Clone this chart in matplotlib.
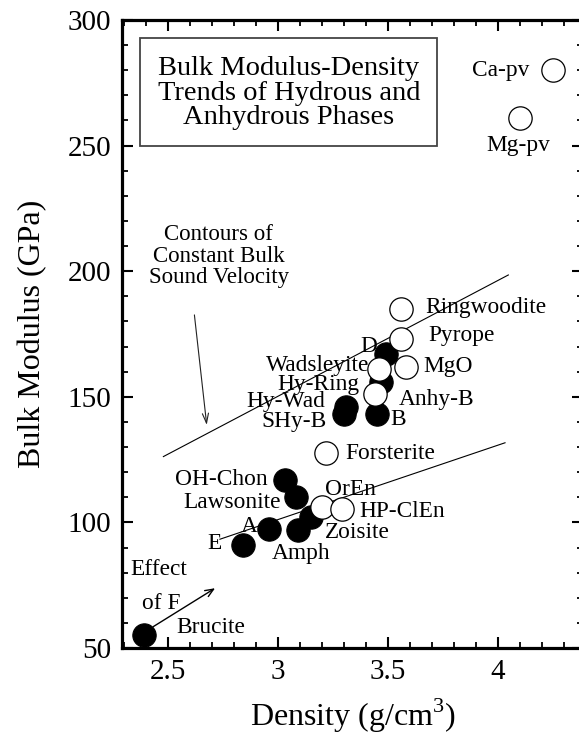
import numpy as np
import matplotlib
matplotlib.use('Agg')
import matplotlib.pyplot as plt
from matplotlib.ticker import MultipleLocator
from matplotlib.patches import Rectangle

plt.rcParams['font.family'] = 'Liberation Serif'
plt.rcParams['mathtext.fontset'] = 'custom'
plt.rcParams['mathtext.rm'] = 'Liberation Serif'

# hydrous phases (filled symbols)
hyd_names = ['Brucite', 'E', 'A', 'Amph', 'Zoisite', 'Lawsonite', 'OH-Chon',
             'B', 'SHy-B', 'Hy-Wad', 'Hy-Ring', 'D']
hyd_rho = [2.39, 2.84, 2.96, 3.09, 3.15, 3.08, 3.03, 3.45, 3.30, 3.31, 3.47, 3.49]
hyd_K = [55, 91, 97.5, 97, 102, 110, 117, 143, 143, 146, 156, 167]

# anhydrous phases (open symbols)
anh_names = ['Forsterite', 'OrEn', 'HP-ClEn', 'Anhy-B', 'Wadsleyite', 'MgO',
             'Pyrope', 'Ringwoodite', 'Mg-pv', 'Ca-pv']
anh_rho = [3.22, 3.20, 3.29, 3.44, 3.46, 3.58, 3.56, 3.56, 4.10, 4.25]
anh_K = [127.5, 106, 105.5, 151, 161, 162, 173, 185, 261, 280]

# contours of constant bulk sound velocity (end points)
upper_rho = [2.479, 4.047]
upper_K = [126.2, 198.5]
lower_rho = [2.736, 4.032]
lower_K = [93.3, 131.7]

# label offsets in pixels (dx, dy, ha)
lab_hyd = {'Brucite': (33, 8, 'left'), 'E': (-21, 2, 'right'), 'A': (-12, 2, 'right'),
           'Amph': (-26, -24, 'left'), 'Zoisite': (14, -15, 'left'),
           'Lawsonite': (-15, -5, 'right'), 'OH-Chon': (-17, 0, 'right'),
           'B': (13, -5, 'left'), 'SHy-B': (-17, -7, 'right'), 'Hy-Wad': (-21, 5, 'right'),
           'Hy-Ring': (-22, -3, 'right'), 'D': (-9, 8, 'right')}
lab_anh = {'Forsterite': (19, 0, 'left'), 'OrEn': (3, 18, 'left'), 'HP-ClEn': (18, -3, 'left'),
           'Anhy-B': (24, -5, 'left'), 'Wadsleyite': (-10, 4, 'right'), 'MgO': (18, 0, 'left'),
           'Pyrope': (27, 4, 'left'), 'Ringwoodite': (24, 1, 'left'),
           'Mg-pv': (-2, -28, 'center'), 'Ca-pv': (-24, 0, 'right')}

fig = plt.figure(figsize=(5.79, 7.37), dpi=100)
ax = fig.add_axes([122/579, 89/737, 461/579, 628/737])
ax.set_xlim(2.2909, 4.3864)
ax.set_ylim(50, 300)

ax.plot(upper_rho, upper_K, color='black', lw=0.8, zorder=1)
ax.plot(lower_rho, lower_K, color='black', lw=0.8, zorder=1)

ax.plot(hyd_rho, hyd_K, 'o', ms=16.8, mfc='black', mec='black', mew=0.8, zorder=3)
ax.plot(anh_rho, anh_K, 'o', ms=16.8, mfc='white', mec='black', mew=0.9, zorder=4)

fs = 16.8
for n, x, y in zip(hyd_names, hyd_rho, hyd_K):
    dx, dy, ha = lab_hyd[n]
    ax.annotate(n, (x, y), xytext=(dx, dy), textcoords='offset pixels',
                ha=ha, va='center', fontsize=fs, zorder=5)
for n, x, y in zip(anh_names, anh_rho, anh_K):
    dx, dy, ha = lab_anh[n]
    ax.annotate(n, (x, y), xytext=(dx, dy), textcoords='offset pixels',
                ha=ha, va='center', fontsize=fs, zorder=5)

# title box
ax.add_patch(Rectangle((2.373, 249.8), 3.725 - 2.373, 292.8 - 249.8, fill=False,
                       edgecolor='#444444', lw=1.3, zorder=2))
ax.text((2.373 + 3.725) / 2, 270.8, 'Bulk Modulus-Density\nTrends of Hydrous and\nAnhydrous Phases',
        ha='center', va='center', fontsize=20.5, linespacing=0.98)

# contours annotation
ax.text(2.73, 206.0, 'Contours of\nConstant Bulk\nSound Velocity', ha='center', va='center',
        fontsize=16.5, linespacing=1.02)
ax.annotate('', xy=(2.676, 138.8), xytext=(2.62, 182.6),
            arrowprops=dict(arrowstyle='->,head_length=0.7,head_width=0.22', lw=0.8,
                            color='#222222', shrinkA=0, shrinkB=0))

# effect of F
ax.text(2.327, 81.1, 'Effect', ha='left', va='center', fontsize=fs)
ax.text(2.38, 67.8, 'of F', ha='left', va='center', fontsize=fs)
ax.annotate('', xy=(2.714, 73.8), xytext=(2.433, 58.5),
            arrowprops=dict(arrowstyle='->,head_length=0.6,head_width=0.25', lw=1.0,
                            color='black', shrinkA=0, shrinkB=0))

ax.xaxis.set_major_locator(MultipleLocator(0.5))
ax.xaxis.set_minor_locator(MultipleLocator(0.1))
ax.yaxis.set_major_locator(MultipleLocator(50))
ax.yaxis.set_minor_locator(MultipleLocator(10))
ax.set_xticks([2.5, 3, 3.5, 4])
ax.set_xticklabels(['2.5', '3', '3.5', '4'])
ax.tick_params(which='both', direction='in', top=True, right=True, labelsize=21, pad=8)
ax.tick_params(which='major', length=8, width=1.5)
ax.tick_params(which='minor', length=4.5, width=1.3)
for s in ax.spines.values():
    s.set_linewidth(2.3)

ax.set_xlabel('Density (g/cm$^3$)', fontsize=23, labelpad=8)
ax.set_ylabel('Bulk Modulus (GPa)', fontsize=23, labelpad=14)

fig.savefig('out.png', dpi=100)
